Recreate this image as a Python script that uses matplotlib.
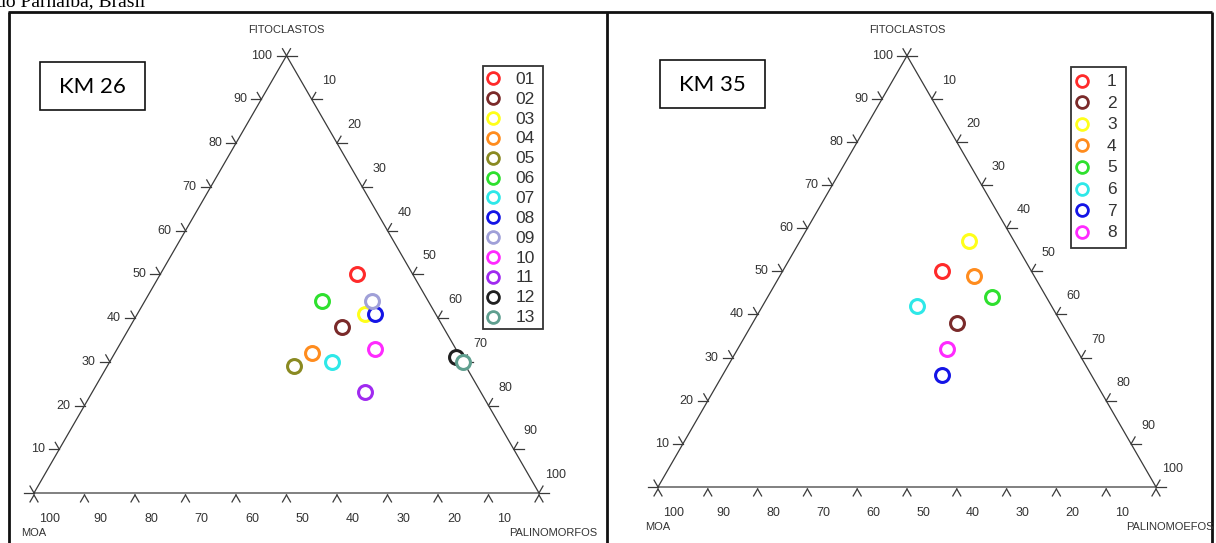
import numpy as np
import matplotlib
matplotlib.use('Agg')
import matplotlib.pyplot as plt
from matplotlib.patches import Rectangle

# ---------------- data ----------------
km26_labels = ['01', '02', '03', '04', '05', '06', '07', '08', '09', '10', '11', '12', '13']
km26_fito = [50, 38, 41, 32, 29, 44, 30, 41, 44, 33, 23, 31, 30]
km26_palino = [39, 42, 45, 39, 37, 35, 44, 47, 45, 51, 54, 68, 70]
km26_moa = [11, 20, 14, 29, 34, 21, 26, 12, 11, 16, 23, 1, 0]
km26_colors = ['#ff2a2a', '#7a2a2a', '#ffff1a', '#ff8c1e', '#8a8a22', '#2ee02e', '#2ee8e8',
               '#1414e6', '#a0a0d8', '#ff2aff', '#a02af0', '#202020', '#5f9f8f']

km35_labels = ['1', '2', '3', '4', '5', '6', '7', '8']
km35_fito = [50, 38, 57, 49, 44, 42, 26, 32]
km35_palino = [32, 41, 34, 39, 45, 31, 44, 42]
km35_moa = [18, 21, 9, 12, 11, 27, 30, 26]
km35_colors = ['#ff2a2a', '#7a2a2a', '#ffff1a', '#ff8c1e', '#2ee02e', '#2ee8e8', '#1414e6', '#ff2aff']

tick_values = [0, 10, 20, 30, 40, 50, 60, 70, 80, 90, 100]
tick_labels = ['', '10', '20', '30', '40', '50', '60', '70', '80', '90', '100']

W, H = 1216, 543
fig = plt.figure(figsize=(W / 100, H / 100), dpi=100)
SQ = np.sqrt(3) / 2
LINE = '#3a3a3a'
TXT = '#333333'
FONT = 'Liberation Sans'

# overlay axes in pixel coordinates for frame / decorations
ax0 = fig.add_axes([0, 0, 1, 1])
ax0.set_xlim(0, W)
ax0.set_ylim(H, 0)
ax0.axis('off')

ax0.text(-4, 6, 'do Parnaíba, Brasil', family='Liberation Serif', fontsize=14,
         ha='left', va='baseline', color='black')
for xs, ys in [([8, 1212], [12, 12]), ([9, 9], [12, 545]), ([607, 607], [12, 545]),
               ([1212, 1212], [12, 545])]:
    ax0.plot(xs, ys, color='#111111', lw=2.0, solid_capstyle='butt')


def ternary_xy(f, p, m):
    f = np.asarray(f, float); p = np.asarray(p, float); m = np.asarray(m, float)
    t = f + p + m
    return (p + f / 2) / t * 100, f / t * 100 * SQ


def draw_panel(x_left, y_base, side, fito, palino, moa, colors, right_name,
               km_text, km_box, legend_labels, leg_box, leg_y0, leg_dy, leg_mx, leg_tx):
    ax = fig.add_axes([x_left / W, (H - y_base) / H, side / W, side * SQ / H])
    ax.set_xlim(0, 100)
    ax.set_ylim(0, 100 * SQ)
    ax.axis('off')
    ppu = side / 100.0
    ax.plot([0, 100, 50, 0], [0, 0, 100 * SQ, 0], color=LINE, lw=0.9, clip_on=False)

    Lh = 10 / ppu  # horizontal tick length
    Ls = 8 / ppu   # slanted tick length
    off = 2 / ppu
    for v, lab in zip(tick_values, tick_labels):
        # bottom edge (MOA)
        bx, by = 100 - v, -off
        for dx, dy in [(-0.5, -SQ), (0.5, -SQ)]:
            ax.plot([bx, bx + dx * Ls], [by, by + dy * Ls], color=LINE, lw=0.9, clip_on=False)
        if lab:
            ax.annotate(lab, (100 - v, 0), xytext=(16, -26), textcoords='offset pixels',
                        ha='center', va='center', fontsize=9, color=TXT, family=FONT)
        # left edge (FITOCLASTOS)
        lx, ly = v / 2, v * SQ
        ax.plot([lx, lx - Lh], [ly, ly], color=LINE, lw=0.9, clip_on=False)
        ax.plot([lx, lx - 0.5 * Ls], [ly, ly + SQ * Ls], color=LINE, lw=0.9, clip_on=False)
        if lab:
            ax.annotate(lab, (lx, ly), xytext=(-14, 0), textcoords='offset pixels',
                        ha='right', va='center', fontsize=9, color=TXT, family=FONT)
        # right edge (PALINOMORFOS)
        rx, ry = v + (100 - v) / 2, (100 - v) * SQ
        ax.plot([rx, rx + Lh], [ry, ry], color=LINE, lw=0.9, clip_on=False)
        ax.plot([rx, rx + 0.5 * Ls], [ry, ry + SQ * Ls], color=LINE, lw=0.9, clip_on=False)
        if lab:
            ax.annotate(lab, (rx, ry), xytext=(17, 18), textcoords='offset pixels',
                        ha='center', va='center', fontsize=9, color=TXT, family=FONT)

    ax.annotate('FITOCLASTOS', (50, 100 * SQ), xytext=(0, 26), textcoords='offset pixels',
                ha='center', va='center', fontsize=8, color=TXT, family=FONT)
    ax.annotate('MOA', (0, 0), xytext=(-13, -40), textcoords='offset pixels',
                ha='left', va='center', fontsize=8, color=TXT, family=FONT)
    ax.annotate(right_name, (100, 0), xytext=(58, -40), textcoords='offset pixels',
                ha='right', va='center', fontsize=8, color=TXT, family=FONT)

    xs, ys = ternary_xy(fito, palino, moa)
    for x, y, c in zip(xs, ys, colors):
        ax.plot([x], [y], 'o', ms=10, mfc='white', mec=c, mew=2.2, clip_on=False, zorder=5)

    # KM box
    bx0, by0, bw, bh = km_box
    ax0.add_patch(Rectangle((bx0, by0), bw, bh, fill=False, ec='#111111', lw=1.2))
    ax0.text(bx0 + bw / 2, by0 + bh / 2 + 1, km_text, ha='center', va='center',
             fontsize=16, family='Lato', color='black')

    # legend
    lx0, ly0, lw_, lh_ = leg_box
    ax0.add_patch(Rectangle((lx0, ly0), lw_, lh_, fill=False, ec='#333333', lw=1.3))
    for i, (lab, c) in enumerate(zip(legend_labels, colors)):
        yy = leg_y0 + i * leg_dy
        ax0.plot([leg_mx], [yy], 'o', ms=8.5, mfc='white', mec=c, mew=2.0)
        ax0.text(leg_tx, yy + 1, lab, ha='center', va='center', fontsize=12.5,
                 family=FONT, color=TXT)


draw_panel(34, 493, 505, km26_fito, km26_palino, km26_moa, km26_colors, 'PALINOMORFOS',
           'KM 26', (40, 62, 105, 48), km26_labels, (483, 66, 60, 263), 78.3, 19.86, 492.7, 525)
draw_panel(658, 487, 498, km35_fito, km35_palino, km35_moa, km35_colors, 'PALINOMOEFOS',
           'KM 35', (660, 60, 105, 48), km35_labels, (1071, 67, 55, 181), 80.7, 21.57, 1081.7, 1111.7)

fig.savefig('out.png', dpi=100)
